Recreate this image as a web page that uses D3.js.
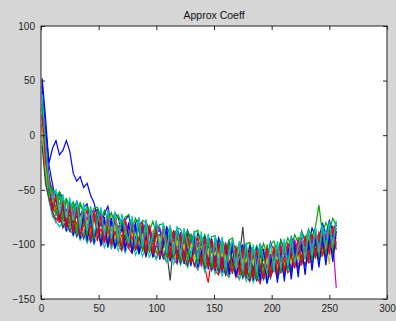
<!DOCTYPE html>
<html><head><meta charset="utf-8">
<script src="https://cdn.jsdelivr.net/npm/d3@7"></script>
<style>html,body{margin:0;padding:0;background:#d6d6d6;}svg{display:block;}</style>
</head><body>
<svg id="c" width="396" height="321"></svg>
<script>
const title = "Approx Coeff";
const xTicks = [0, 50, 100, 150, 200, 250, 300];
const yTicks = [-150, -100, -50, 0, 50, 100];
const colors = ["#0000ff","#00a800","#ff0000","#00c4c4","#cc00cc","#c8c000","#404040"];
// samples taken every 3rd index (1,4,7,...,256)
const sampleX = d3.range(1, 257, 3);

const sA = [52,15,-28,-45,-60,-52,-58,-70,-61,-72, -60,-74,-66,-63,-79,-70,-68,-82,-72,-65, -83,-71,-76,-88,-78,-73,-90,-80,-77,-92, -79,-88,-93,-82,-86,-97,-84,-91,-99,-85, -96,-101,-87,-95,-103,-90,-98,-106,-93,-100, -108,-94,-103,-110,-97,-106,-112,-99,-104,-114, -101,-110,-115,-100,-108,-113,-98,-107,-111,-96, -106,-109,-93,-101,-104,-88,-97,-100,-85,-93, -96,-80,-91,-78,-88,-80];
const sB = [20,-32,-52,-66,-72,-70,-79,-76,-84,-78, -88,-76,-90,-82,-80,-95,-84,-92,-97,-85, -94,-99,-87,-96,-102,-90,-99,-104,-93,-101, -106,-94,-103,-108,-96,-105,-111,-99,-108,-100, -112,-102,-110,-115,-104,-113,-118,-106,-114,-120, -108,-117,-123,-110,-121,-125,-113,-122,-128,-115, -124,-130,-116,-125,-119,-127,-113,-123,-126,-111, -120,-123,-108,-117,-114,-104,-113,-116,-100,-109, -107,-96,-104,-102,-92,-99];
const sC = [10,-40,-60,-72,-80,-74,-85,-79,-88,-90, -82,-95,-91,-84,-98,-93,-87,-101,-96,-89, -103,-92,-100,-106,-94,-104,-108,-96,-107,-99, -111,-100,-108,-113,-101,-111,-116,-104,-113,-118, -105,-116,-120,-108,-118,-123,-110,-121,-135,-112, -124,-128,-115,-126,-130,-117,-127,-132,-120,-129, -134,-121,-129,-136,-122,-130,-127,-118,-129,-125, -115,-126,-122,-112,-121,-118,-108,-117,-114,-104, -112,-110,-100,-109,-106,-97];
const sD = [30,-22,-45,-55,-66,-62,-70,-75,-68,-79, -70,-81,-73,-84,-76,-72,-86,-78,-88,-80, -77,-90,-83,-81,-93,-85,-95,-86,-84,-97, -88,-98,-90,-99,-91,-89,-102,-93,-104,-95, -93,-106,-97,-108,-99,-96,-110,-101,-112,-103, -100,-114,-105,-116,-106,-103,-118,-108,-120,-110, -107,-121,-111,-118,-123,-108,-119,-106,-117,-114, -103,-115,-100,-111,-108,-97,-106,-95,-104,-101, -91,-100,-88,-97,-94,-86];
const sE = [45,-10,-48,-68,-70,-79,-74,-82,-78,-87, -80,-91,-84,-93,-83,-95,-87,-86,-98,-90, -97,-88,-101,-92,-99,-103,-94,-105,-96,-93, -107,-98,-109,-100,-97,-111,-102,-108,-113,-101, -104,-115,-106,-117,-108,-105,-120,-110,-118,-122, -111,-123,-114,-125,-115,-113,-127,-118,-126,-129, -118,-130,-120,-127,-132,-117,-128,-124,-115,-126, -122,-112,-121,-109,-118,-116,-105,-114,-102,-111, -108,-99,-107,-104,-96,-140];
const sF = [0,-36,-40,-50,-62,-58,-64,-70,-67,-74, -66,-77,-70,-80,-72,-70,-83,-75,-85,-77, -74,-87,-80,-78,-90,-81,-92,-84,-80,-94, -85,-95,-87,-86,-98,-89,-99,-91,-88,-101, -92,-103,-94,-104,-95,-93,-107,-97,-109,-99, -98,-110,-101,-112,-103,-100,-114,-106,-116,-105, -104,-117,-108,-115,-105,-118,-107,-102,-114,-110, -100,-111,-98,-107,-96,-104,-93,-103,-98,-89, -99,-86,-95,-118,-84,-90];
const sG = [15,-28,-52,-63,-60,-72,-68,-78,-73,-80, -74,-85,-77,-86,-79,-76,-89,-81,-91,-83, -80,-93,-85,-84,-95,-87,-97,-89,-86,-99, -91,-101,-93,-90,-104,-95,-106,-133,-97,-108, -98,-109,-100,-111,-101,-99,-113,-104,-115,-106, -103,-117,-108,-119,-110,-106,-121,-112,-84,-120, -110,-123,-114,-121,-112,-125,-109,-120,-117,-106, -116,-119,-103,-113,-110,-99,-109,-106,-96,-105, -102,-92,-101,-99,-89,-95];
const sH = [40,5,-25,-12,-5,-18,-14,-5,-15,-35, -42,-38,-48,-44,-55,-62,-76,-70,-84,-75, -87,-79,-90,-82,-80,-92,-84,-94,-85,-83, -96,-87,-98,-89,-87,-100,-91,-101,-93,-90, -104,-94,-106,-96,-95,-108,-99,-110,-100,-98, -112,-102,-114,-104,-103,-116,-106,-118,-108,-106, -120,-109,-117,-110,-121,-106,-116,-113,-105,-117, -112,-102,-111,-99,-108,-105,-95,-104,-92,-101, -98,-89,-96,-87,-93,-85];
const sI = [-5,-38,-42,-50,-57,-52,-63,-58,-66,-61, -70,-62,-72,-65,-74,-67,-66,-77,-69,-78, -71,-80,-73,-82,-75,-73,-85,-76,-86,-78, -80,-88,-79,-90,-82,-81,-92,-84,-94,-85, -86,-96,-88,-97,-89,-87,-100,-91,-102,-93, -92,-104,-95,-106,-96,-94,-108,-99,-110,-100, -98,-111,-101,-109,-99,-110,-100,-97,-108,-96, -105,-94,-102,-91,-99,-88,-97,-86,-94,-84, -64,-90,-80,-87,-76,-83];
const sJ = [25,-20,-50,-58,-68,-64,-74,-70,-79,-72, -83,-73,-85,-76,-87,-78,-77,-90,-80,-91, -82,-92,-84,-94,-85,-83,-96,-88,-98,-89, -99,-90,-101,-92,-91,-103,-94,-105,-96,-94, -107,-97,-109,-99,-98,-111,-101,-112,-103,-101, -115,-105,-117,-107,-106,-119,-109,-120,-111,-108, -122,-111,-124,-112,-120,-109,-119,-110,-118,-107, -116,-105,-114,-102,-111,-99,-108,-97,-106,-94, -103,-92,-100,-89,-97,-88];
const sK = [5,-42,-60,-75,-79,-84,-80,-88,-84,-92, -85,-96,-88,-99,-90,-100,-92,-91,-103,-94, -104,-96,-106,-97,-108,-99,-98,-110,-101,-111, -102,-112,-104,-114,-106,-105,-116,-108,-118,-109, -119,-110,-121,-112,-111,-123,-114,-125,-116,-115, -127,-118,-129,-120,-130,-121,-120,-132,-123,-134, -124,-135,-125,-133,-123,-136,-124,-122,-132,-120, -129,-118,-126,-115,-124,-112,-121,-110,-118,-107, -116,-104,-113,-102,-110,-100];
const sL = [35,-12,-38,-56,-53,-66,-60,-70,-63,-72, -66,-76,-68,-78,-70,-69,-81,-73,-83,-74, -84,-76,-86,-78,-77,-89,-80,-90,-82,-80, -93,-84,-94,-86,-85,-96,-87,-98,-89,-88, -100,-91,-102,-93,-92,-104,-95,-105,-97,-96, -108,-99,-110,-101,-100,-112,-103,-113,-105,-104, -115,-105,-116,-104,-114,-103,-113,-104,-111,-101, -110,-99,-107,-96,-105,-94,-102,-91,-99,-88, -97,-86,-94,-83,-91,-82];
const sM = [8,-30,-55,-58,-70,-64,-76,-71,-80,-75, -85,-75,-87,-78,-89,-80,-79,-92,-83,-93, -84,-95,-86,-96,-87,-86,-99,-90,-100,-91, -102,-92,-104,-94,-93,-106,-96,-108,-98,-97, -110,-100,-112,-101,-113,-103,-102,-115,-105,-116, -107,-118,-108,-120,-110,-109,-122,-112,-123,-113, -125,-114,-126,-113,-124,-112,-123,-111,-121,-110, -119,-108,-117,-105,-114,-102,-111,-100,-108,-97, -106,-95,-103,-92,-100,-91];
const sN = [-10,-45,-58,-70,-77,-73,-84,-79,-88,-82, -93,-84,-95,-86,-97,-88,-87,-100,-90,-101, -92,-103,-94,-104,-95,-94,-107,-97,-108,-99, -110,-100,-111,-102,-101,-113,-104,-115,-106,-105, -117,-108,-119,-109,-120,-111,-110,-122,-113,-124, -115,-126,-116,-128,-118,-117,-130,-120,-131,-121, -133,-122,-134,-121,-132,-120,-131,-119,-129,-118, -127,-116,-124,-113,-122,-110,-119,-108,-116,-105, -114,-102,-111,-100,-108,-99];
const sO = [48,-5,-40,-70,-55,-80,-62,-88,-66,-92, -66,-95,-70,-97,-72,-99,-74,-101,-75,-103, -76,-104,-92,-78,-106,-80,-108,-81,-109,-82, -111,-83,-112,-84,-114,-100,-86,-115,-87,-117, -89,-118,-90,-120,-92,-121,-108,-93,-123,-95, -124,-96,-126,-98,-128,-99,-129,-116,-100,-131, -101,-133,-103,-134,-104,-136,-118,-105,-135,-104, -134,-104,-132,-102,-130,-100,-128,-97,-124,-95, -121,-93,-119,-91,-116,-88];
const sP = [28,-18,-55,-48,-74,-54,-78,-58,-82,-62, -90,-63,-70,-92,-66,-95,-69,-71,-98,-72, -100,-75,-101,-77,-90,-104,-78,-106,-80,-107, -81,-108,-96,-82,-111,-84,-112,-86,-113,-87, -115,-89,-116,-90,-104,-118,-92,-120,-94,-121, -95,-122,-97,-124,-98,-126,-112,-100,-128,-101, -130,-102,-131,-101,-129,-100,-128,-113,-99,-126, -97,-124,-95,-121,-93,-118,-102,-89,-115,-86, -112,-84,-109,-81,-105,-80];
const sQ = [18,-25,-38,-70,-55,-80,-60,-85,-64,-89, -66,-92,-80,-68,-95,-70,-97,-72,-98,-74, -100,-75,-89,-102,-77,-104,-79,-105,-94,-80, -108,-82,-109,-84,-111,-85,-98,-113,-87,-115, -90,-116,-91,-117,-105,-93,-119,-94,-121,-96, -123,-98,-124,-99,-114,-127,-101,-128,-103,-130, -104,-131,-105,-118,-131,-103,-130,-102,-128,-101, -126,-99,-110,-122,-96,-119,-92,-117,-90,-113, -88,-111,-96,-108,-83,-105];
const sR = [38,-8,-45,-58,-50,-72,-54,-76,-57,-78, -60,-86,-62,-88,-65,-90,-79,-66,-92,-68, -95,-70,-97,-72,-85,-99,-74,-101,-75,-102, -77,-104,-91,-78,-106,-80,-108,-82,-109,-83, -111,-85,-99,-112,-87,-114,-88,-116,-90,-117, -92,-119,-93,-121,-108,-95,-122,-97,-124,-98, -126,-100,-125,-99,-113,-126,-98,-124,-97,-122, -95,-120,-93,-117,-102,-89,-114,-87,-110,-84, -108,-82,-104,-79,-101,-78];
const series = [sA,sB,sC,sD,sE,sF,sG,sH,sI,sJ,sK,sL,sM,sN,sO,sP,sQ,sR];

const svg = d3.select("#c");
const L = 41, R = 387, T = 26, B = 299;
const x = d3.scaleLinear().domain([0, 300]).range([L, R]);
const y = d3.scaleLinear().domain([-150, 100]).range([B, T]);

svg.append("rect").attr("x",0).attr("y",0).attr("width",396).attr("height",321).attr("fill","#d6d6d6");
svg.append("rect").attr("x",L).attr("y",T).attr("width",R-L).attr("height",B-T).attr("fill","#ffffff");

svg.append("defs").append("clipPath").attr("id","clip").append("rect")
  .attr("x",L).attr("y",T).attr("width",R-L).attr("height",B-T);

const line = d3.line().x((d,i)=>x(sampleX[i])).y(d=>y(d));
const g = svg.append("g").attr("clip-path","url(#clip)");
series.forEach((s,k)=>{
  g.append("path").attr("d", line(s)).attr("fill","none")
   .attr("stroke", colors[k % colors.length]).attr("stroke-width",1.2).attr("stroke-linejoin","miter");
});

const fs = 10;
const axB = d3.axisBottom(x).tickValues(xTicks).tickSize(-4).tickPadding(6).tickFormat(d3.format("d"));
const axT = d3.axisTop(x).tickValues(xTicks).tickSize(-4).tickFormat("");
const axL = d3.axisLeft(y).tickValues(yTicks).tickSize(-4).tickPadding(6).tickFormat(d3.format("d"));
const axR = d3.axisRight(y).tickValues(yTicks).tickSize(-4).tickFormat("");
function style(sel){
  sel.select(".domain").remove();
  sel.selectAll("line").attr("stroke","#222");
  sel.selectAll("text").attr("fill","#222").style("font-family","'Liberation Sans', Arial, sans-serif").style("font-size",fs+"px");
}
svg.append("g").attr("transform",`translate(0,${B})`).call(axB).call(style);
svg.append("g").attr("transform",`translate(0,${T})`).call(axT).call(style);
svg.append("g").attr("transform",`translate(${L},0)`).call(axL).call(style);
svg.append("g").attr("transform",`translate(${R},0)`).call(axR).call(style);

svg.append("rect").attr("x",L).attr("y",T).attr("width",R-L).attr("height",B-T)
  .attr("fill","none").attr("stroke","#222").attr("stroke-width",1);

svg.append("text").attr("x",(L+R)/2).attr("y",19).attr("text-anchor","middle")
  .style("font-family","'Liberation Sans', Arial, sans-serif").style("font-size","10.5px").attr("fill","#111").text(title);
</script>
</body></html>
